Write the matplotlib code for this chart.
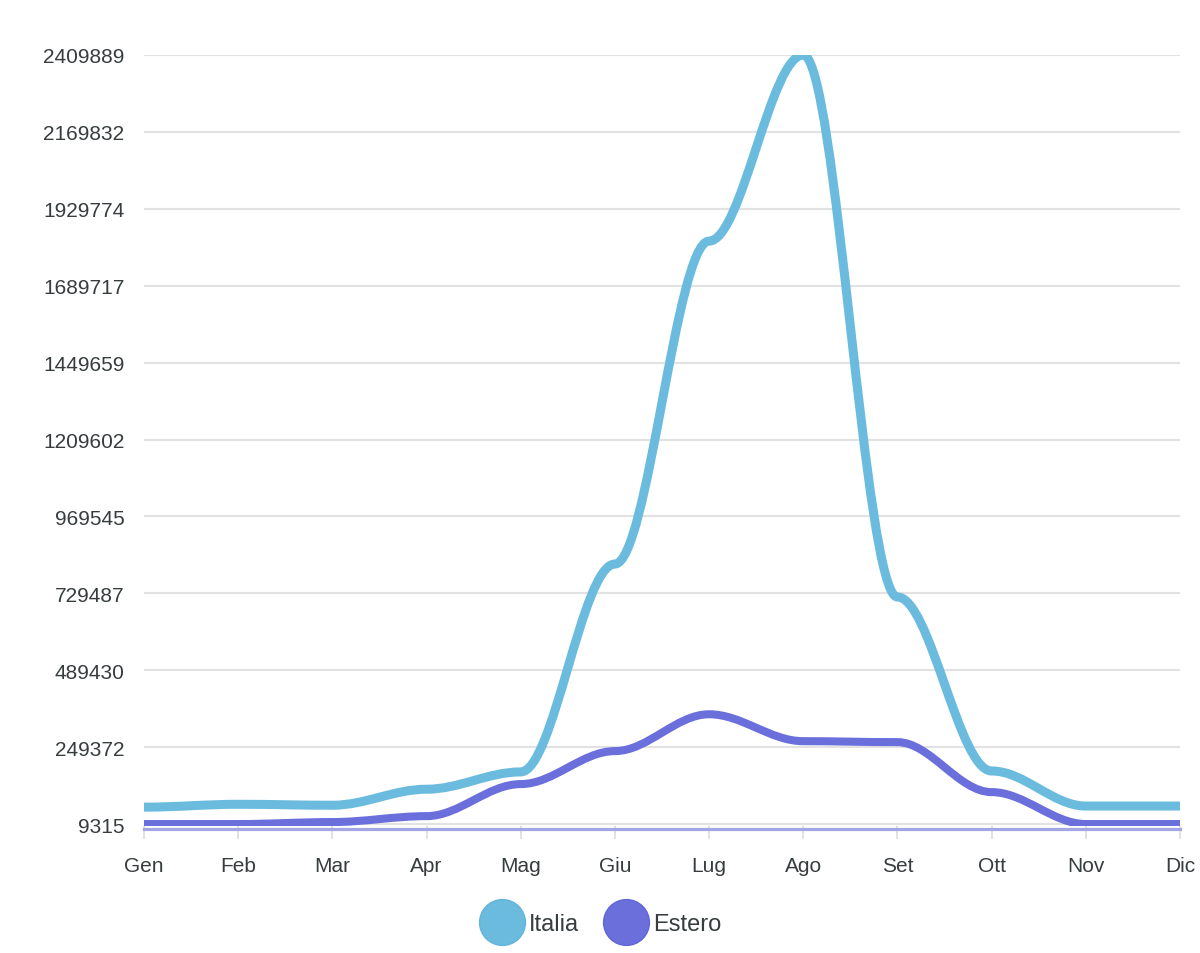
import numpy as np
import matplotlib
matplotlib.use("Agg")
import matplotlib.pyplot as plt
from matplotlib.path import Path
from matplotlib.patches import PathPatch
from matplotlib.lines import Line2D
from matplotlib.transforms import blended_transform_factory

plt.rcParams['font.family'] = ['Liberation Sans', 'DejaVu Sans']

months = ['Gen', 'Feb', 'Mar', 'Apr', 'Mag', 'Giu', 'Lug', 'Ago', 'Set', 'Ott', 'Nov', 'Dic']
italia = [62000, 71000, 68000, 118000, 172000, 821000, 1829000, 2409889, 718000, 175000, 65500, 65500]
estero = [9315, 9315, 15500, 34000, 134000, 237000, 352000, 268000, 265000, 109000, 9315, 9315]
yticks = [9315, 249372, 489430, 729487, 969545, 1209602, 1449659,
          1689717, 1929774, 2169832, 2409889]

c_italia = '#6abbde'
c_estero = '#6a6fdc'
text_col = '#373d3f'

fig = plt.figure(figsize=(12, 9.54), dpi=100)
ax = fig.add_axes([0.12, 0.1336, 0.8633, 0.8077])
ymin, ymax = 4630, yticks[-1]
ax.set_xlim(0, len(months) - 1)
ax.set_ylim(ymin, ymax)


def smooth_path(xs, ys, k=0.35):
    # bezier segments with horizontal handles at every point
    verts = [(xs[0], ys[0])]
    codes = [Path.MOVETO]
    for i in range(len(xs) - 1):
        dx = (xs[i + 1] - xs[i]) * k
        verts += [(xs[i] + dx, ys[i]), (xs[i + 1] - dx, ys[i + 1]), (xs[i + 1], ys[i + 1])]
        codes += [Path.CURVE4] * 3
    return Path(verts, codes)


x = np.arange(len(months))
p1 = ax.add_patch(PathPatch(smooth_path(x, italia), fill=False, edgecolor=c_italia,
                            lw=6.5, capstyle='butt', joinstyle='round', zorder=3))
p2 = ax.add_patch(PathPatch(smooth_path(x, estero), fill=False, edgecolor=c_estero,
                            lw=5.8, capstyle='butt', joinstyle='round', zorder=4))
p1.set_clip_path(ax.patch)
p2.set_clip_path(ax.patch)

# thin line just below the plot area
trans = blended_transform_factory(ax.transAxes, ax.transAxes)
ax.add_line(Line2D([0, 1], [-0.0045, -0.0045], transform=trans, color='#a3a5e4',
                   lw=2.3, clip_on=False, zorder=5))

ax.set_yticks(yticks)
ax.set_yticklabels([str(v) for v in yticks])
ax.set_xticks(x)
ax.set_xticklabels(months)
ax.grid(axis='y', color='#e2e2e2', lw=1.5)
ax.set_axisbelow(True)
for s in ['top', 'right', 'left', 'bottom']:
    ax.spines[s].set_visible(False)
ax.tick_params(axis='y', length=0, pad=14, labelsize=15, labelcolor=text_col)
ax.tick_params(axis='x', length=9, width=1.2, color='#dddddd', pad=13,
               labelsize=15, labelcolor=text_col)

handles = [Line2D([], [], ls='none', marker='o', ms=33, mfc=c_italia, mec='#62b4da', mew=1),
           Line2D([], [], ls='none', marker='o', ms=33, mfc=c_estero, mec='#6066d6', mew=1)]
fig.legend(handles, ['Italia', 'Estero'], loc='center', bbox_to_anchor=(0.5, 0.03),
           ncol=2, frameon=False, fontsize=17, handletextpad=0.15, columnspacing=1.0,
           labelcolor=text_col, handlelength=2.0)

fig.savefig('out.png', dpi=100, facecolor='white')
